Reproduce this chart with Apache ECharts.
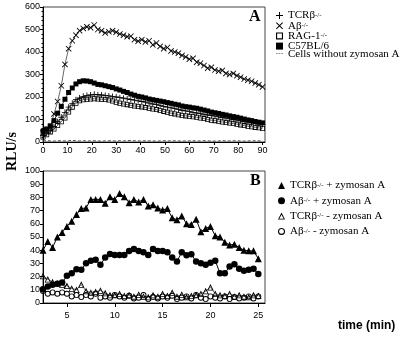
<!DOCTYPE html>
<html>
<head>
<meta charset="utf-8">
<script src="https://cdn.jsdelivr.net/npm/echarts@6/dist/echarts.min.js"></script>
<style>
  html, body { margin: 0; padding: 0; background: #fff; }
  #main { width: 405px; height: 337px; }
</style>
</head>
<body>
<div id="main"></div>
<script>
// panel A: time (min)
var timeA = [0, 1.5, 3, 4.5, 6, 7.5, 9, 10.5, 12, 13.5, 15, 16.5, 18, 19.5, 21, 22.5, 24, 25.5, 27, 28.5,
    30, 31.5, 33, 34.5, 36, 37.5, 39, 40.5, 42, 43.5, 45, 46.5, 48, 49.5, 51, 52.5, 54, 55.5, 57, 58.5,
    60, 61.5, 63, 64.5, 66, 67.5, 69, 70.5, 72, 73.5, 75, 76.5, 78, 79.5, 81, 82.5, 84, 85.5, 87, 88.5, 90];
var tcrA = [30, 38, 50, 68, 90, 110, 132, 155, 172, 188, 196, 203, 207, 209, 212, 210, 209, 207, 205, 202,
    200, 197, 195, 192, 189, 186, 183, 180, 177, 173, 169, 166, 162, 158, 155, 152, 148, 144, 141, 138,
    135, 132, 129, 126, 123, 120, 118, 115, 112, 109, 106, 103, 100, 97, 94, 91, 88, 85, 83, 80, 78];
var abA = [40, 50, 65, 125, 180, 250, 345, 415, 450, 475, 495, 505, 512, 508, 520, 500, 495, 485, 490, 495,
    488, 480, 475, 468, 470, 455, 448, 455, 445, 450, 432, 440, 425, 415, 420, 405, 400, 395, 385, 378,
    368, 372, 355, 350, 340, 328, 332, 320, 315, 318, 305, 300, 305, 295, 288, 280, 275, 270, 262, 255, 245];
var ragA = [22, 32, 45, 58, 73, 90, 107, 133, 155, 172, 183, 188, 190, 191, 192, 191, 190, 189, 187, 182,
    177, 172, 169, 166, 163, 160, 158, 156, 153, 150, 147, 144, 140, 136, 132, 128, 125, 121, 118, 116,
    114, 112, 110, 107, 104, 100, 97, 95, 92, 89, 87, 84, 82, 79, 76, 73, 70, 68, 65, 63, 60];
var c57A = [48, 58, 72, 95, 128, 158, 190, 220, 240, 258, 268, 272, 271, 268, 262, 256, 254, 250, 246, 242,
    236, 231, 225, 220, 213, 208, 203, 200, 196, 191, 188, 185, 182, 179, 175, 172, 168, 165, 160, 157,
    155, 152, 150, 146, 142, 138, 133, 130, 127, 123, 120, 116, 113, 110, 106, 102, 98, 95, 91, 88, 85];
var noZymA = [5, 6, 5, 4, 6, 5, 5, 6, 7, 6, 5, 6, 5, 5, 6, 5, 4, 5, 6, 5,
    5, 6, 5, 6, 7, 6, 5, 5, 6, 5, 5, 4, 5, 6, 5, 5, 6, 5, 4, 5,
    5, 6, 5, 5, 6, 5, 5, 4, 5, 6, 5, 5, 6, 5, 5, 4, 5, 5, 6, 5, 5];

// panel B: time (min)
var timeB = [2.5, 3, 3.5, 4, 4.5, 5, 5.5, 6, 6.5, 7, 7.5, 8, 8.5, 9, 9.5, 10, 10.5, 11, 11.5, 12,
    12.5, 13, 13.5, 14, 14.5, 15, 15.5, 16, 16.5, 17, 17.5, 18, 18.5, 19, 19.5, 20, 20.5, 21, 21.5, 22,
    22.5, 23, 23.5, 24, 24.5, 25];
var tcrPlus = [40, 46.5, 42, 50, 53.5, 58, 62, 67, 71.5, 72, 78.5, 78.5, 78.5, 75.5, 80.5, 78.5, 83, 80.5, 76, 78.5,
    76.5, 78.5, 73.5, 74.5, 72, 70.5, 71.5, 64.5, 63, 66, 60, 59.5, 63.5, 54, 56.5, 58, 51, 50, 46, 44,
    44.5, 42, 40, 39.5, 39.5, 33.5];
var abPlus = [10.5, 12.5, 13.8, 14.6, 15.5, 20.6, 22.6, 25.6, 25.1, 30.2, 32.1, 32.7, 28.9, 34.4, 37.2, 36.4, 36.4, 36.4, 39.4, 41,
    39.4, 38.5, 36.4, 41, 39.4, 39.4, 38.5, 34.4, 31.4, 38.5, 36.2, 37, 31.4, 30.2, 28.9, 30.5, 32, 22.6, 22.6, 27.6,
    29.4, 25.9, 24.4, 25.1, 25.9, 21.9];
var tcrMinus = [20.5, 18, 16, 15, 14, 13, 11, 10, 14, 9, 8, 8.5, 9.5, 7.5, 6, 6, 7, 5.5, 6, 5,
    6.5, 5, 4.5, 6, 5, 7, 5.5, 8, 5, 6.5, 4.5, 5.5, 6, 7, 9, 12, 7, 6, 5.5, 7,
    5, 6, 5, 4.5, 6, 5.5];
var abMinus = [9, 7, 8, 7, 8, 7, 5, 6, 4.5, 6, 5, 7, 4, 5, 4, 6, 5, 4, 5.5, 3.5,
    4, 6, 3, 4.5, 3.5, 5, 4, 5.5, 3, 4, 5, 3.5, 6, 4, 3, 5, 4, 3.5, 5, 3,
    4.5, 3.5, 4, 5, 3.5, 5];

var ticksA = [0, 10, 20, 30, 40, 50, 60, 70, 80, 90];
var ticksB = [5, 10, 15, 20, 25];

// marker shapes
var plusPath = 'path://M4.3,0H5.7V4.3H10V5.7H5.7V10H4.3V5.7H0V4.3H4.3Z';
var crossPath = 'path://M0,1L1,0L5,4L9,0L10,1L6,5L10,9L9,10L5,6L1,10L0,9L4,5Z';
var dashPath = 'path://M0,4H6V6H0Z M9,4H15V6H9Z M18,4H24V6H18Z';
var openRect = 'path://M0,0H10V10H0Z M1.6,1.6V8.4H8.4V1.6Z';
var openTri = 'path://M5,0L10,10L0,10Z M5,3.2L1.9,8.8L8.1,8.8Z';
var openCircle = 'path://M5,0A5,5,0,1,1,5,10A5,5,0,1,1,5,0Z M5,1.5A3.5,3.5,0,1,0,5,8.5A3.5,3.5,0,1,0,5,1.5Z';

function pairs(xs, ys) {
    var out = [];
    for (var i = 0; i < xs.length; i++) out.push([xs[i], ys[i]]);
    return out;
}

function sup(name) {
    return name.replace('-/-', '{s|-/-}');
}

function load() {
    var chart = echarts.init(document.getElementById('main'));
    var axisFont = { fontFamily: 'Liberation Sans', fontSize: 9, color: '#000' };
    var legendText = {
        fontFamily: 'Liberation Serif', fontSize: 11, color: '#000', lineHeight: 8,
        rich: { s: { fontFamily: 'Liberation Serif', fontSize: 7, verticalAlign: 'top', lineHeight: 8, padding: [0, 0, 5, 0] } }
    };
    var option = {
        animation: false,
        backgroundColor: '#fff',
        grid: [
            { left: 43, top: 7, right: 140, bottom: 195, show: true, borderColor: '#444', borderWidth: 1 },
            { left: 43, top: 171, right: 140, bottom: 34, show: true, borderColor: '#444', borderWidth: 1 }
        ],
        xAxis: [
            {
                gridIndex: 0, type: 'value', min: 0, max: 91,
                axisLine: { lineStyle: { color: '#000' } },
                axisTick: { length: 3, customValues: ticksA, lineStyle: { color: '#000' } },
                axisLabel: Object.assign({ margin: 4, customValues: ticksA }, axisFont),
                splitLine: { show: false }
            },
            {
                gridIndex: 1, type: 'value', min: 2.5, max: 25.7,
                axisLine: { lineStyle: { color: '#000' } },
                axisTick: { length: 4, customValues: ticksB, lineStyle: { color: '#000' } },
                axisLabel: Object.assign({ margin: 8, customValues: ticksB }, axisFont),
                splitLine: { show: false }
            }
        ],
        yAxis: [
            {
                gridIndex: 0, type: 'value', min: 0, max: 600, interval: 100,
                axisLine: { show: true, lineStyle: { color: '#000' } },
                axisTick: { show: true, length: 3, lineStyle: { color: '#000' } },
                minorTick: { show: true, splitNumber: 5, length: 1.5, lineStyle: { color: '#000' } },
                axisLabel: Object.assign({ margin: 3 }, axisFont),
                splitLine: { show: false }
            },
            {
                gridIndex: 1, type: 'value', min: 0, max: 100, interval: 10,
                axisLine: { show: true, lineStyle: { color: '#000' } },
                axisTick: { show: true, length: 3, lineStyle: { color: '#000' } },
                axisLabel: Object.assign({ margin: 3 }, axisFont),
                splitLine: { show: false }
            }
        ],
        legend: [
            {
                orient: 'vertical', left: 271, top: 5, itemWidth: 7, itemHeight: 7, itemGap: -3.3,
                selectedMode: false, textStyle: legendText, formatter: sup,
                data: [
                    { name: 'TCRβ-/-', icon: plusPath },
                    { name: 'Aβ-/-', icon: crossPath },
                    { name: 'RAG-1-/-', icon: openRect },
                    { name: 'C57BL/6', icon: 'rect' },
                    { name: 'Cells without zymosan A', icon: dashPath, itemStyle: { color: '#222' } }
                ]
            },
            {
                orient: 'vertical', left: 273, top: 175, itemWidth: 7, itemHeight: 7, itemGap: 1.8,
                selectedMode: false, textStyle: legendText, formatter: sup,
                data: [
                    { name: 'TCRβ-/- + zymosan A', icon: 'triangle' },
                    { name: 'Aβ-/- + zymosan A', icon: 'circle' },
                    { name: 'TCRβ-/- - zymosan A', icon: openTri },
                    { name: 'Aβ-/- - zymosan A', icon: openCircle }
                ]
            }
        ],
        graphic: [
            { type: 'text', left: 249, top: 9, style: { text: 'A', font: 'bold 16px "Liberation Serif"', fill: '#000' } },
            { type: 'text', left: 250, top: 173, style: { text: 'B', font: 'bold 16px "Liberation Serif"', fill: '#000' } },
            { type: 'text', x: 5, y: 171, rotation: Math.PI / 2, style: { text: 'RLU/s', font: 'bold 14px "Liberation Serif"', fill: '#000' } },
            { type: 'text', left: 338, top: 320, style: { text: 'time (min)', font: 'bold 12px "Liberation Sans"', fill: '#000' } }
        ],
        series: [
            {
                name: 'Cells without zymosan A', type: 'line', xAxisIndex: 0, yAxisIndex: 0,
                data: pairs(timeA, noZymA), symbol: 'none', color: '#555',
                lineStyle: { width: 1, type: [3, 2], color: '#555' }
            },
            {
                name: 'RAG-1-/-', type: 'line', xAxisIndex: 0, yAxisIndex: 0,
                data: pairs(timeA, ragA), symbol: openRect, symbolSize: 5, color: '#000',
                lineStyle: { width: 0.6, color: '#000' }
            },
            {
                name: 'TCRβ-/-', type: 'line', xAxisIndex: 0, yAxisIndex: 0,
                data: pairs(timeA, tcrA), symbol: plusPath, symbolSize: 6, color: '#000',
                lineStyle: { width: 0.6, color: '#000' }
            },
            {
                name: 'C57BL/6', type: 'line', xAxisIndex: 0, yAxisIndex: 0,
                data: pairs(timeA, c57A), symbol: 'rect', symbolSize: 5, color: '#000',
                lineStyle: { width: 0.8, color: '#000' }
            },
            {
                name: 'Aβ-/-', type: 'line', xAxisIndex: 0, yAxisIndex: 0,
                data: pairs(timeA, abA), symbol: crossPath, symbolSize: 6, color: '#000',
                lineStyle: { width: 0.6, color: '#000' }
            },
            {
                name: 'TCRβ-/- + zymosan A', type: 'line', xAxisIndex: 1, yAxisIndex: 1,
                data: pairs(timeB, tcrPlus), symbol: 'triangle', symbolSize: 7, color: '#000',
                lineStyle: { width: 1, color: '#000' }
            },
            {
                name: 'Aβ-/- + zymosan A', type: 'line', xAxisIndex: 1, yAxisIndex: 1,
                data: pairs(timeB, abPlus), symbol: 'circle', symbolSize: 6.5, color: '#000',
                lineStyle: { width: 1, color: '#000' }
            },
            {
                name: 'TCRβ-/- - zymosan A', type: 'line', xAxisIndex: 1, yAxisIndex: 1,
                data: pairs(timeB, tcrMinus), symbol: openTri, symbolSize: 6.5, color: '#000',
                lineStyle: { width: 0.6, color: '#000' }
            },
            {
                name: 'Aβ-/- - zymosan A', type: 'line', xAxisIndex: 1, yAxisIndex: 1,
                data: pairs(timeB, abMinus), symbol: openCircle, symbolSize: 6, color: '#000',
                lineStyle: { width: 0 }
            }
        ]
    };
    chart.setOption(option);
}
load();
</script>
</body>
</html>
